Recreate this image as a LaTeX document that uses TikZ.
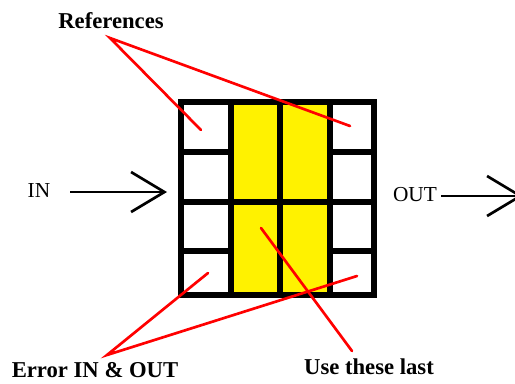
\documentclass[tikz,border=0pt]{standalone}
\usepackage{fontspec}
\setmainfont{Liberation Serif}
\usetikzlibrary{arrows.meta}
\begin{document}
\begin{tikzpicture}[x=0.75pt,y=-0.75pt,
  lbl/.style={font=\fontsize{17}{17}\selectfont\bfseries, inner sep=0pt},
  io/.style={font=\fontsize{16}{16}\selectfont, inner sep=0pt},
  gridline/.style={line width=4.5pt, black},
  redline/.style={line width=2pt, red, line cap=round},
  bigarrow/.style={line width=2pt, -{Straight Barb[length=25pt,width=30pt]}}]
\useasboundingbox (0,0) rectangle (515,383);
% yellow columns
\fill[yellow] (230.5,102) rectangle (329.5,294.5);
% grid
\draw[gridline] (180.5,102) rectangle (373.5,294.5);
\draw[gridline] (230.5,102) -- (230.5,294.5);
\draw[gridline] (280,102) -- (280,294.5);
\draw[gridline] (329.5,102) -- (329.5,294.5);
\draw[gridline] (180.5,201.5) -- (373.5,201.5);
\draw[gridline] (180.5,152) -- (230.5,152);
\draw[gridline] (180.5,251) -- (230.5,251);
\draw[gridline] (329.5,152) -- (373.5,152);
\draw[gridline] (329.5,251) -- (373.5,251);
% labels
\node[lbl] (refs) at (111,21) {References};
\node[lbl] (err) at (95,370) {Error IN \& OUT};
\node[lbl] (use) at (369,367) {Use these last};
\node[io] (in) at (39,191) {IN};
\node[io] (out) at (415,195) {OUT};
% coordinates
\coordinate (refA) at (110,38);
\coordinate (refTL) at (201,130);
\coordinate (refTR) at (350,126);
\coordinate (errA) at (107,355);
\coordinate (errBL) at (208,273);
\coordinate (errBR) at (357,276);
\coordinate (useA) at (352,351);
\coordinate (useC) at (261,228);
\coordinate (inS) at (70,192);
\coordinate (inT) at (167,192);
\coordinate (outS) at (441,196);
\coordinate (outT) at (523,196);
% red pointers
\draw[redline] (refTL) -- (refA) -- (refTR);
\draw[redline] (errBL) -- (errA) -- (errBR);
\draw[redline] (useC) -- (useA);
% arrows
\draw[bigarrow] (inS) -- (inT);
\draw[bigarrow] (outS) -- (outT);
\end{tikzpicture}
\end{document}
